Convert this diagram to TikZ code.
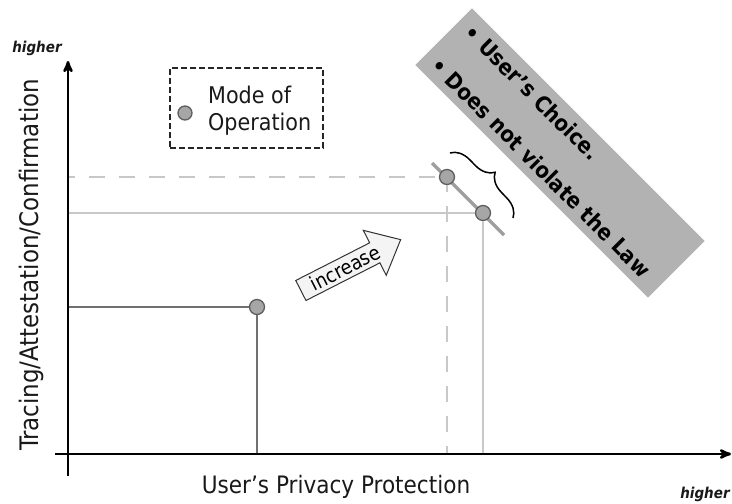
\documentclass[tikz,border=0pt]{standalone}
\usepackage{fontspec}
\setmainfont{DejaVu Sans Condensed}
\usepackage{tikz}
\usetikzlibrary{arrows}
\usetikzlibrary{positioning}
\usetikzlibrary{shapes.arrows}
\usetikzlibrary{decorations.pathreplacing}

\definecolor{dotfill}{RGB}{166,166,166}
\definecolor{dotedge}{RGB}{95,95,95}
\definecolor{lightln}{RGB}{200,200,200}
\definecolor{darkln}{RGB}{112,112,112}
\definecolor{slopeln}{RGB}{158,158,158}
\definecolor{notefill}{RGB}{178,178,178}
\definecolor{incrfill}{RGB}{244,244,244}

\tikzset{
	axis/.style={->,>=stealth',line width=2.6pt,black},
	mode/.style={circle,draw=dotedge,fill=dotfill,line width=1.3pt,minimum size=15pt,inner sep=0pt},
	guide/.style={lightln,line width=2pt},
	guidedash/.style={guide,dash pattern=on 16pt off 14pt},
	low/.style={darkln,line width=2.2pt},
	slope/.style={slopeln,line width=3.4pt},
	legendbox/.style={draw=black!85,dash pattern=on 6pt off 3pt,line width=1.2pt,minimum width=153pt,minimum height=80pt},
	note/.style={fill=notefill,minimum width=329pt,minimum height=80pt,text width=305pt,inner xsep=12pt,align=left,font=\fontsize{22}{26}\selectfont\bfseries},
	incr/.style={single arrow,draw=black!80,fill=incrfill,line width=1pt,minimum height=112pt,single arrow head extend=14pt,single arrow tip angle=82,inner sep=3pt,font=\fontsize{20}{23}\selectfont},
	lbl/.style={font=\fontsize{24}{27}\selectfont,text=black!90},
	high/.style={font=\fontsize{15}{18}\selectfont\bfseries\itshape,text=black!90},
	brc/.style={decorate,decoration={brace,amplitude=19pt},line width=1.5pt}
}

\begin{document}
\begin{tikzpicture}[x=1pt,y=-1pt]
	\useasboundingbox (0,0) rectangle (732,504);
	% axes
	\coordinate (O) at (68,454);
	\coordinate (ybot) at (68,476);
	\coordinate (ytop) at (68,61);
	\coordinate (xbeg) at (55,454);
	\coordinate (xend) at (731,454);

	% slope through the two upper modes
	\coordinate (s1) at (432,163);
	\coordinate (s2) at (504,235);
	\draw[slope] (s1) -- (s2);

	\node[mode] (mlow) at (257,307) {};
	\node[mode] (mtop) at (447,177) {};
	\node[mode] (mright) at (483,213) {};

	\draw[low] (O |- mlow) -- (mlow) -- (mlow |- O);
	\draw[guidedash,dash phase=9pt] (O |- mtop) -- (mtop) -- (mtop |- O);
	\draw[guide] (O |- mright) -- (mright) -- (mright |- O);

	\draw[axis] (ybot) -- (ytop);
	\draw[axis] (xbeg) -- (xend);

	\node[high] (yhigh) at (37,48) {higher};
	\node[high] (xhigh) at (705,494) {higher};
	\node[lbl,rotate=90,font=\fontsize{25.5}{28}\selectfont] (ylbl) at (31,265) {Tracing/Attestation/Confirmation};
	\node[lbl] (xlbl) at (336,487) {User's Privacy Protection};

	% legend
	\node[legendbox] (legend) at (246.5,108) {};
	\node[mode,minimum size=14pt] (legdot) at (185,113) {};
	\node[lbl,anchor=west,align=left,inner sep=0pt,font=\fontsize{23}{27}\selectfont] (legtext) at (208,110.5) {Mode of\\Operation};

	\node[incr,rotate=27] (incr) at (345,268) {increase};

	% brace between the modes and the note
	\coordinate (b1) at (450,153);
	\coordinate (b2) at (513,218);
	\draw[brc] (b1) -- (b2);

	\node[note,rotate=-45] (note) at (560,153) {\textbullet\ User's Choice.\\[21pt]\textbullet\ Does not violate the Law};
\end{tikzpicture}
\end{document}
